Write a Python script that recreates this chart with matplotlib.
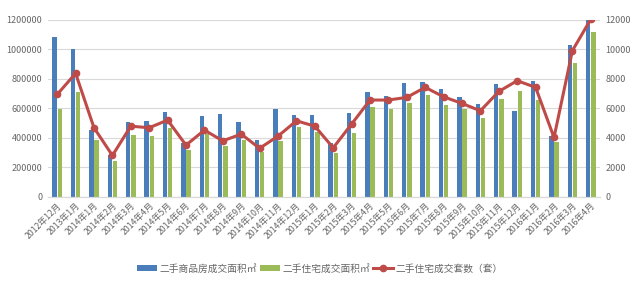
import matplotlib
matplotlib.use("Agg")
import matplotlib.pyplot as plt
import numpy as np

plt.rcParams['font.family'] = ['Noto Sans CJK SC', 'DejaVu Sans']

categories = ["2012年12月", "2013年1月", "2014年1月", "2014年2月", "2014年3月", "2014年4月",
              "2014年5月", "2014年6月", "2014年7月", "2014年8月", "2014年9月", "2014年10月",
              "2014年11月", "2014年12月", "2015年1月", "2015年2月", "2015年3月", "2015年4月",
              "2015年5月", "2015年6月", "2015年7月", "2015年8月", "2015年9月", "2015年10月",
              "2015年11月", "2015年12月", "2016年1月", "2016年2月", "2016年3月", "2016年4月"]

area_all = [1087000, 1000000, 453000, 281000, 505000, 514000, 577000, 368000, 548000, 561000,
            507000, 385000, 598000, 555000, 555000, 368000, 566000, 711000, 686000, 774000,
            779000, 729000, 679000, 629000, 765000, 584000, 788000, 412000, 1030000, 1245000]

area_res = [595000, 713000, 385000, 244000, 421000, 412000, 469000, 321000, 430000, 344000,
            385000, 303000, 376000, 471000, 441000, 299000, 435000, 607000, 598000, 634000,
            688000, 625000, 593000, 534000, 666000, 715000, 656000, 371000, 906000, 1118000]

units_res = [6950, 8380, 4690, 2810, 4800, 4690, 5210, 3510, 4530, 3800,
             4260, 3300, 4120, 5160, 4800, 3330, 4940, 6570, 6570, 6750,
             7430, 6790, 6340, 5840, 7150, 7880, 7430, 4030, 9920, 12050]

c_blue = "#4A7EBB"
c_green = "#9BBB59"
c_red = "#BE4B48"
c_grid = "#D9D9D9"
c_text = "#666666"

fig = plt.figure(figsize=(6.4, 2.85), dpi=100)
ax = fig.add_axes([0.075, 0.309, 0.8625, 0.621])
ax2 = ax.twinx()

x = np.arange(len(categories))
w = 0.24
b1 = ax.bar(x - 0.14, area_all, width=w, color=c_blue, zorder=2, label="二手商品房成交面积㎡")
b2 = ax.bar(x + 0.14, area_res, width=w, color=c_green, zorder=2, label="二手住宅成交面积㎡")
l1, = ax2.plot(x, units_res, color=c_red, lw=2.2, marker='o', ms=4.5, zorder=3,
               label="二手住宅成交套数（套）")

ax.set_xlim(-0.5, len(categories) - 0.5)
ax.set_ylim(0, 1200000)
ax2.set_ylim(0, 12000)
ax.set_yticks(np.arange(0, 1200001, 200000))
ax2.set_yticks(np.arange(0, 12001, 2000))
ax.set_yticklabels([str(v) for v in range(0, 1200001, 200000)])
ax2.set_yticklabels([str(v) for v in range(0, 12001, 2000)])
ax.grid(axis='y', color=c_grid, lw=0.8, zorder=0)
ax.set_axisbelow(True)

for a in (ax, ax2):
    for s in ("top", "left", "right"):
        a.spines[s].set_visible(False)
    a.spines["bottom"].set_color(c_grid)
    a.tick_params(axis='y', length=0, labelsize=6.5, labelcolor=c_text, pad=4)

ax.set_xticks(x)
ax.set_xticklabels(categories, rotation=45, ha='right', rotation_mode='anchor',
                   fontsize=6.3, color=c_text)
ax.tick_params(axis='x', length=0, pad=3)

fig.legend(handles=[b1, b2, l1], loc='center', bbox_to_anchor=(0.5, 0.058), ncol=3,
           frameon=False, fontsize=7, labelcolor=c_text, handlelength=2.0,
           handleheight=0.5, handletextpad=0.3, columnspacing=0.3)

fig.savefig("out.png", dpi=100)
